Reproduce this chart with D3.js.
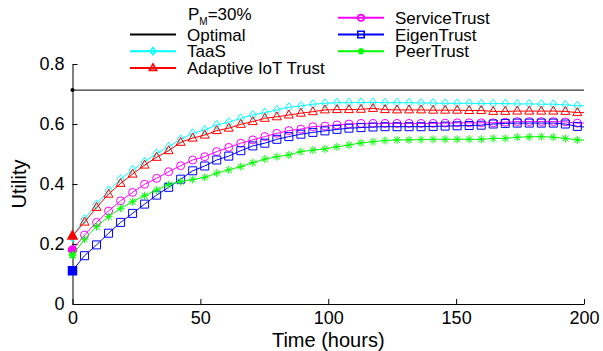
<!DOCTYPE html>
<html>
<head>
<meta charset="utf-8">
<script src="https://cdn.jsdelivr.net/npm/d3@7"></script>
<style>
  body { margin: 0; background: #fff; }
  text { font-family: Arial, "Liberation Sans", Helvetica, sans-serif; fill: #000; }
</style>
</head>
<body>
<div id="chart"></div>
<script>
// time axis (hours); the last entry only carries the line to the axis end
var hours = [0, 4.7, 9.4, 14.1, 18.8, 23.5, 28.2, 32.9, 37.6, 42.3, 47, 51.7, 56.4, 61.1, 65.8,
    70.5, 75.2, 79.9, 84.6, 89.3, 94, 98.7, 103.4, 108.1, 112.8, 117.5, 122.2, 126.9, 131.6,
    136.3, 141, 145.7, 150.4, 155.1, 159.8, 164.5, 169.2, 173.9, 178.6, 183.3, 188, 192.7, 197.4, 200];
var markerCount = 43;

var optimal = 0.713;
var taas = [0.225, 0.283, 0.332, 0.378, 0.416, 0.447, 0.474, 0.502, 0.524, 0.549, 0.569,
    0.580, 0.597, 0.606, 0.619, 0.630, 0.638, 0.647, 0.656, 0.660, 0.666, 0.669,
    0.671, 0.671, 0.672, 0.672, 0.671, 0.671, 0.671, 0.670, 0.670, 0.669,
    0.669, 0.669, 0.668, 0.668, 0.668, 0.667, 0.667, 0.666, 0.666, 0.664, 0.661, 0.661];
var adaptive = [0.227, 0.273, 0.322, 0.366, 0.402, 0.433, 0.463, 0.489, 0.511, 0.539, 0.553,
    0.563, 0.578, 0.586, 0.599, 0.608, 0.619, 0.624, 0.630, 0.636, 0.641, 0.647,
    0.648, 0.648, 0.649, 0.652, 0.648, 0.647, 0.647, 0.647, 0.646, 0.646,
    0.646, 0.645, 0.645, 0.642, 0.642, 0.643, 0.643, 0.643, 0.643, 0.642, 0.638, 0.638];
var serviceTrust = [0.180, 0.230, 0.272, 0.310, 0.344, 0.372, 0.399, 0.419, 0.441, 0.461, 0.480,
    0.491, 0.508, 0.522, 0.536, 0.547, 0.558, 0.569, 0.578, 0.583, 0.591, 0.593,
    0.597, 0.600, 0.602, 0.602, 0.602, 0.602, 0.602, 0.602, 0.602, 0.603,
    0.604, 0.604, 0.604, 0.604, 0.606, 0.608, 0.608, 0.608, 0.608, 0.607, 0.603, 0.603];
var eigenTrust = [0.111, 0.161, 0.197, 0.236, 0.272, 0.302, 0.333, 0.363, 0.389, 0.416, 0.444,
    0.460, 0.480, 0.493, 0.511, 0.527, 0.536, 0.549, 0.558, 0.566, 0.572, 0.577,
    0.582, 0.586, 0.588, 0.590, 0.591, 0.591, 0.591, 0.591, 0.592, 0.593,
    0.594, 0.595, 0.596, 0.600, 0.602, 0.603, 0.603, 0.603, 0.603, 0.600, 0.592, 0.590];
var peerTrust = [0.163, 0.216, 0.258, 0.291, 0.319, 0.341, 0.361, 0.380, 0.398, 0.408, 0.415,
    0.422, 0.436, 0.447, 0.458, 0.471, 0.483, 0.491, 0.497, 0.508, 0.513, 0.517,
    0.524, 0.530, 0.537, 0.541, 0.545, 0.547, 0.547, 0.548, 0.549, 0.549,
    0.549, 0.549, 0.549, 0.552, 0.552, 0.556, 0.557, 0.558, 0.556, 0.552, 0.547, 0.546];

var xTicks = [0, 50, 100, 150, 200];
var yTicks = [0, 0.2, 0.4, 0.6, 0.8];

var series = [
    { name: "TaaS", values: taas, color: "#00ffff", marker: "diamond" },
    { name: "Adaptive IoT Trust", values: adaptive, color: "#ff0000", marker: "triangle" },
    { name: "ServiceTrust", values: serviceTrust, color: "#ff00ff", marker: "circle" },
    { name: "EigenTrust", values: eigenTrust, color: "#0000ff", marker: "square" },
    { name: "PeerTrust", values: peerTrust, color: "#00ff00", marker: "star" }
];

var width = 603, height = 351;
var margin = { left: 72.5, right: 19, top: 64, bottom: 47 };

var svg = d3.select("#chart").append("svg")
    .attr("width", width)
    .attr("height", height);

svg.append("rect").attr("width", width).attr("height", height).attr("fill", "#fff");

var x = d3.scaleLinear().domain([0, 200]).range([margin.left, width - margin.right]);
var y = d3.scaleLinear().domain([0, 0.8]).range([height - margin.bottom, margin.top]);

// axes, ticks pointing inward like matlab
var xAxis = d3.axisBottom(x).tickValues(xTicks).tickSizeInner(-5).tickSizeOuter(0)
    .tickPadding(7).tickFormat(d3.format("d"));
var yAxis = d3.axisLeft(y).tickValues(yTicks).tickSizeInner(-5).tickSizeOuter(0)
    .tickPadding(8).tickFormat(function(d) { return d === 0 ? "0" : d3.format(".1f")(d); });

var gx = svg.append("g")
    .attr("transform", "translate(0," + (height - margin.bottom) + ")")
    .call(xAxis);
var gy = svg.append("g")
    .attr("transform", "translate(" + margin.left + ",0)")
    .call(yAxis);

[gx, gy].forEach(function(g) {
    g.selectAll("path, line").attr("stroke", "#000").attr("stroke-width", 1);
    g.selectAll("text").attr("font-size", 18).attr("font-family", null).attr("fill", "#000");
});

svg.append("text")
    .attr("x", (x(0) + x(200)) / 2)
    .attr("y", 347)
    .attr("text-anchor", "middle")
    .attr("font-size", 20)
    .text("Time (hours)");

svg.append("text")
    .attr("transform", "translate(26," + (y(0.4)) + ") rotate(-90)")
    .attr("text-anchor", "middle")
    .attr("font-size", 20)
    .text("Utility");

// optimal line
svg.append("line")
    .attr("x1", x(0)).attr("x2", x(200))
    .attr("y1", y(optimal)).attr("y2", y(optimal))
    .attr("stroke", "#000").attr("stroke-width", 1);
svg.append("circle")
    .attr("cx", x(0)).attr("cy", y(optimal)).attr("r", 2).attr("fill", "#000");

function markerPath(kind) {
    if (kind === "diamond") return "M0,-4.5L3.5,0L0,4.5L-3.5,0Z";
    if (kind === "triangle") return "M0,-5L4.5,3L-4.5,3Z";
    if (kind === "circle") return "M4,0A4,4 0 1,1 -4,0A4,4 0 1,1 4,0Z";
    if (kind === "square") return "M-4,-4H4V4H-4Z";
    // asterisk
    return "M-4,0H4M0,-4V4M-3,-3L3,3M-3,3L3,-3";
}

var line = d3.line()
    .x(function(d) { return x(d.t); })
    .y(function(d) { return y(d.v); });

series.forEach(function(s) {
    var pts = hours.map(function(t, i) { return { t: t, v: s.values[i] }; });
    var g = svg.append("g");
    g.append("path")
        .datum(pts)
        .attr("d", line)
        .attr("fill", "none")
        .attr("stroke", s.color)
        .attr("stroke-width", 1);
    g.selectAll("path.mk")
        .data(pts.slice(0, markerCount))
        .enter().append("path")
        .attr("class", "mk")
        .attr("d", markerPath(s.marker))
        .attr("transform", function(d) { return "translate(" + x(d.t) + "," + y(d.v) + ")"; })
        .attr("fill", function(d, i) { return i === 0 ? s.color : "none"; })
        .attr("stroke", s.color)
        .attr("stroke-width", function(d, i) { return i === 0 ? 1.5 : 1; });
});

// legend
var legend = svg.append("g");
var title = legend.append("text").attr("x", 188).attr("y", 20).attr("font-size", 17);
title.append("tspan").text("P");
title.append("tspan").attr("font-size", 10).attr("dy", 5).text("M");
title.append("tspan").attr("dy", -5).text("=30%");

var legendItems = [
    { name: "Optimal", color: "#000", marker: null, col: 0, row: 1 },
    { name: series[0].name, color: series[0].color, marker: series[0].marker, col: 0, row: 2 },
    { name: series[1].name, color: series[1].color, marker: series[1].marker, col: 0, row: 3 },
    { name: series[2].name, color: series[2].color, marker: series[2].marker, col: 1, row: 0 },
    { name: series[3].name, color: series[3].color, marker: series[3].marker, col: 1, row: 1 },
    { name: series[4].name, color: series[4].color, marker: series[4].marker, col: 1, row: 2 }
];
var colX = [130, 338];
var rowY = [17.8, 34.5, 51.2, 68];

legendItems.forEach(function(d) {
    var lx = colX[d.col], ly = rowY[d.row];
    legend.append("line")
        .attr("x1", lx).attr("x2", lx + 46)
        .attr("y1", ly).attr("y2", ly)
        .attr("stroke", d.color).attr("stroke-width", 2);
    if (d.marker) {
        legend.append("path")
            .attr("d", markerPath(d.marker))
            .attr("transform", "translate(" + (lx + 23) + "," + ly + ") scale(0.8)")
            .attr("fill", "none")
            .attr("stroke", d.color)
            .attr("stroke-width", 2);
    }
    legend.append("text")
        .attr("x", lx + 57)
        .attr("y", ly + 6)
        .attr("font-size", 17)
        .text(d.name);
});
</script>
</body>
</html>
